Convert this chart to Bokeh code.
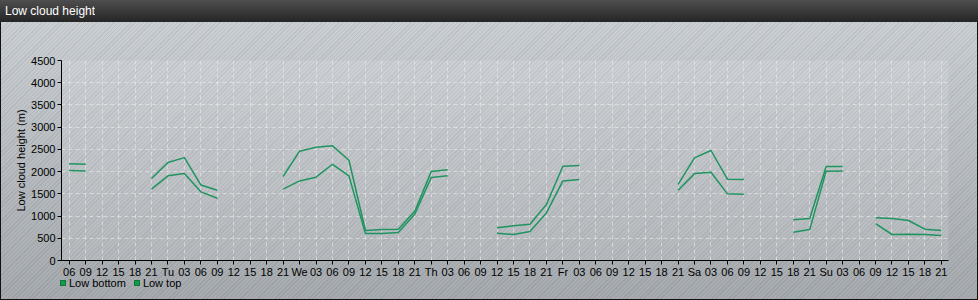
import numpy as np
from bokeh.plotting import figure
from bokeh.models import ColumnDataSource, Range1d, FixedTicker, Div
from bokeh.layouts import column
from bokeh.embed import file_html
from bokeh.resources import INLINE

# ---- data (3-hourly, starting Monday 06:00) ----
start_hour = 6
step_hours = 3
day_names = ["Mo", "Tu", "We", "Th", "Fr", "Sa", "Su"]
series_names = ["Low bottom", "Low top"]

low_top = [
    2175, 2165, None, None, None, 1845,                 # Mo 06..21
    2205, 2315, 1700, 1580, None, None, None, 1890,     # Tu
    2460, 2550, 2580, 2255, 675, 695, 705, 1110,        # We
    2000, 2040, None, None, 735, 780, 815, 1260,        # Th
    2120, 2135, None, None, None, None, None, 1715,     # Fr
    2310, 2475, 1830, 1820, None, None, 915, 945,       # Sa
    2115, 2115, None, 960, 945, 900, 705, 675,          # Su
]
low_bottom = [
    2025, 2015, None, None, None, 1605,
    1905, 1955, 1545, 1400, None, None, None, 1605,
    1790, 1875, 2165, 1905, 605, 605, 630, 1040,
    1865, 1905, None, None, 615, 585, 650, 1070,
    1790, 1820, None, None, None, None, None, 1580,
    1955, 1985, 1500, 1490, None, None, 635, 695,
    2010, 2015, None, 830, 585, 590, 585, 560,
]
y_ticks = [0, 500, 1000, 1500, 2000, 2500, 3000, 3500, 4000, 4500]

hours = [start_hour + step_hours * i for i in range(len(low_top))]
tick_labels = {h: (day_names[h // 24] if h % 24 == 0 else f"{h % 24:02d}") for h in hours}

def arr(v):
    return np.array([np.nan if a is None else a for a in v], dtype=float)

src = ColumnDataSource(dict(x=hours, top=arr(low_top), bottom=arr(low_bottom)))

GREEN = "#1f9460"
SWATCH = "#139a4c"
FONT = "Liberation Sans"

p = figure(width=978, height=258,
           x_range=Range1d(hours[0] - 1.4, hours[-1] + 1.3),
           y_range=Range1d(0, 4500),
           output_backend="svg", toolbar_location=None,
           min_border_left=61, min_border_right=30,
           min_border_top=38, min_border_bottom=20, margin=0)

p.border_fill_color = None
p.background_fill_color = "white"
p.background_fill_alpha = 0.12
p.outline_line_color = None

# axes
p.xaxis.ticker = FixedTicker(ticks=hours)
p.xaxis.major_label_overrides = tick_labels
p.yaxis.ticker = FixedTicker(ticks=y_ticks)
for ax in (p.xaxis, p.yaxis):
    ax.axis_line_color = "black"
    ax.major_tick_line_color = "black"
    ax.minor_tick_line_color = None
    ax.major_tick_in = 0
    ax.major_tick_out = 4
    ax.major_label_text_font = FONT
    ax.major_label_text_font_size = "11px"
    ax.major_label_text_color = "black"
p.xaxis.major_label_standoff = 1
p.yaxis.major_label_standoff = 2
p.yaxis.axis_label = "Low cloud height (m)"
p.yaxis.axis_label_text_font = FONT
p.yaxis.axis_label_text_font_size = "11px"
p.yaxis.axis_label_text_font_style = "normal"
p.yaxis.axis_label_text_color = "black"
p.yaxis.axis_label_standoff = 1

# grid
for g in (p.xgrid, p.ygrid):
    g.grid_line_color = "#f0f0f0"
    g.grid_line_alpha = 0.55
    g.grid_line_dash = "4 3"
    g.grid_line_width = 1

# lines
p.line("x", "top", source=src, line_color=GREEN, line_width=1.5)
p.line("x", "bottom", source=src, line_color=GREEN, line_width=1.5)

title = Div(text='<div style="padding-left:5px;line-height:22px;height:22px;overflow:hidden;color:#ffffff;'
                 'font-family:\'Liberation Sans\',Arial,sans-serif;font-size:12px;">Low cloud height</div>',
            width=978, height=22, margin=0,
            styles={"background": "linear-gradient(#4e4e4e, #252525)", "overflow": "hidden"})

sw = ('<span style="display:inline-block;width:6px;height:6px;background:%s;'
      'border:0.5px solid #0e7a3a;vertical-align:middle;margin-right:3px;"></span>' % SWATCH)
legend_html = ('<div style="position:relative;top:-6px;padding-left:60px;line-height:12px;white-space:nowrap;'
               'font-family:\'Liberation Sans\',Arial,sans-serif;font-size:11px;color:#000;">'
               + sw + '<span style="vertical-align:middle;">' + series_names[0] + '</span>'
               + '<span style="display:inline-block;width:8px;"></span>'
               + sw + '<span style="vertical-align:middle;">' + series_names[1] + '</span></div>')
legend_div = Div(text=legend_html, width=978, height=20, margin=0)

layout = column(title, p, legend_div, margin=0, spacing=0,
                styles={"background": "repeating-linear-gradient(135deg, rgba(90,100,110,0.10) 0px, "
                                      "rgba(90,100,110,0.10) 1px, rgba(215,225,240,0.08) 1px, "
                                      "rgba(215,225,240,0.08) 3px), linear-gradient(#cdd1d5, #a2a6a9)",
                        "outline": "1px solid #111", "outline-offset": "-1px"})

open("out.html", "w").write(file_html(layout, INLINE))
